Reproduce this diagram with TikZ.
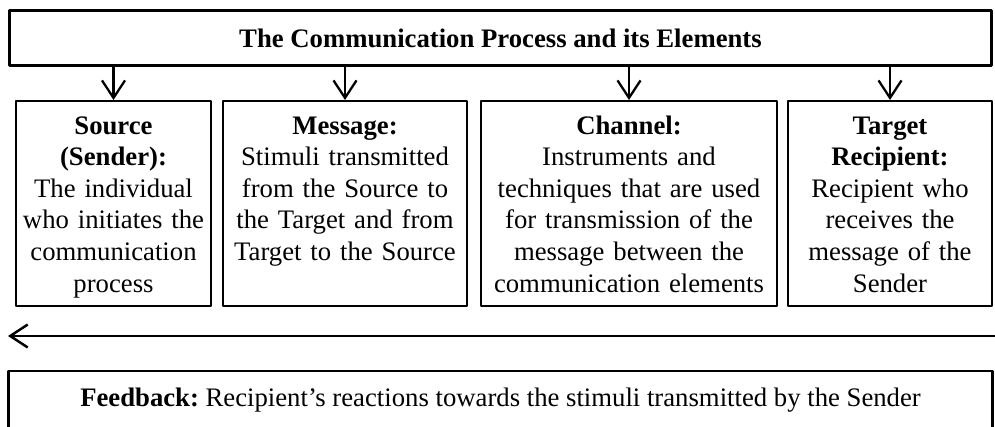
\documentclass[tikz,border=0pt]{standalone}
\usepackage{fontspec}
\setmainfont{Liberation Serif}
\usetikzlibrary{arrows.meta}
\frenchspacing
\begin{document}
\begin{tikzpicture}[line join=round, line cap=round, >={Straight Barb[length=3.5mm,width=4.6mm]},
	hop/.style={draw, line width=1.2pt, inner sep=0pt, align=center, font=\fontsize{15.2}{18}\selectfont},
	khung/.style={hop, anchor=north, text height=0.66cm, text depth=3.44cm}]
	\useasboundingbox (0,0) rectangle (19.9,8.52);
	%% Tieu de
	\node[hop, minimum width=19.64cm, minimum height=1.1cm] (T) at (10.01,7.76)
	{\textbf{The Communication Process and its Elements}};
	%% Cac yeu to
	\node[khung, text width=3.9cm] (S) at (2.27,6.52)
	{\textbf{Source}\\\textbf{(Sender):}\\The individual\\who initiates the\\communication\\process};
	\node[khung, text width=4.88cm] (M) at (6.9,6.52)
	{\textbf{Message:}\\Stimuli transmitted\\from the Source to\\the Target and from\\Target to the Source};
	\node[khung, text width=5.92cm] (C) at (12.58,6.52)
	{\textbf{Channel:}\\Instruments and\\techniques that are used\\for transmission of the\\message between the\\communication elements};
	\node[khung, text width=4.08cm] (R) at (17.8,6.52)
	{\textbf{Target}\\\textbf{Recipient:}\\Recipient who\\receives the\\message of the\\Sender};
	%% Mui ten xuong
	\foreach \x in {S,M,C,R}
	\draw[->, line width=1.3pt] (T.south -| \x.north)--(\x.north);
	%% Phan hoi
	\path 
	(19.92,1.8) coordinate (E)
	(0.16,1.8) coordinate (W)
	;
	\draw[->, line width=1.4pt] (E)--(W);
	\node[hop, minimum width=19.68cm, minimum height=1.16cm] (F) at (10.01,0.52)
	{\textbf{Feedback:} Recipient's reactions towards the stimuli transmitted by the Sender};
\end{tikzpicture}
\end{document}
